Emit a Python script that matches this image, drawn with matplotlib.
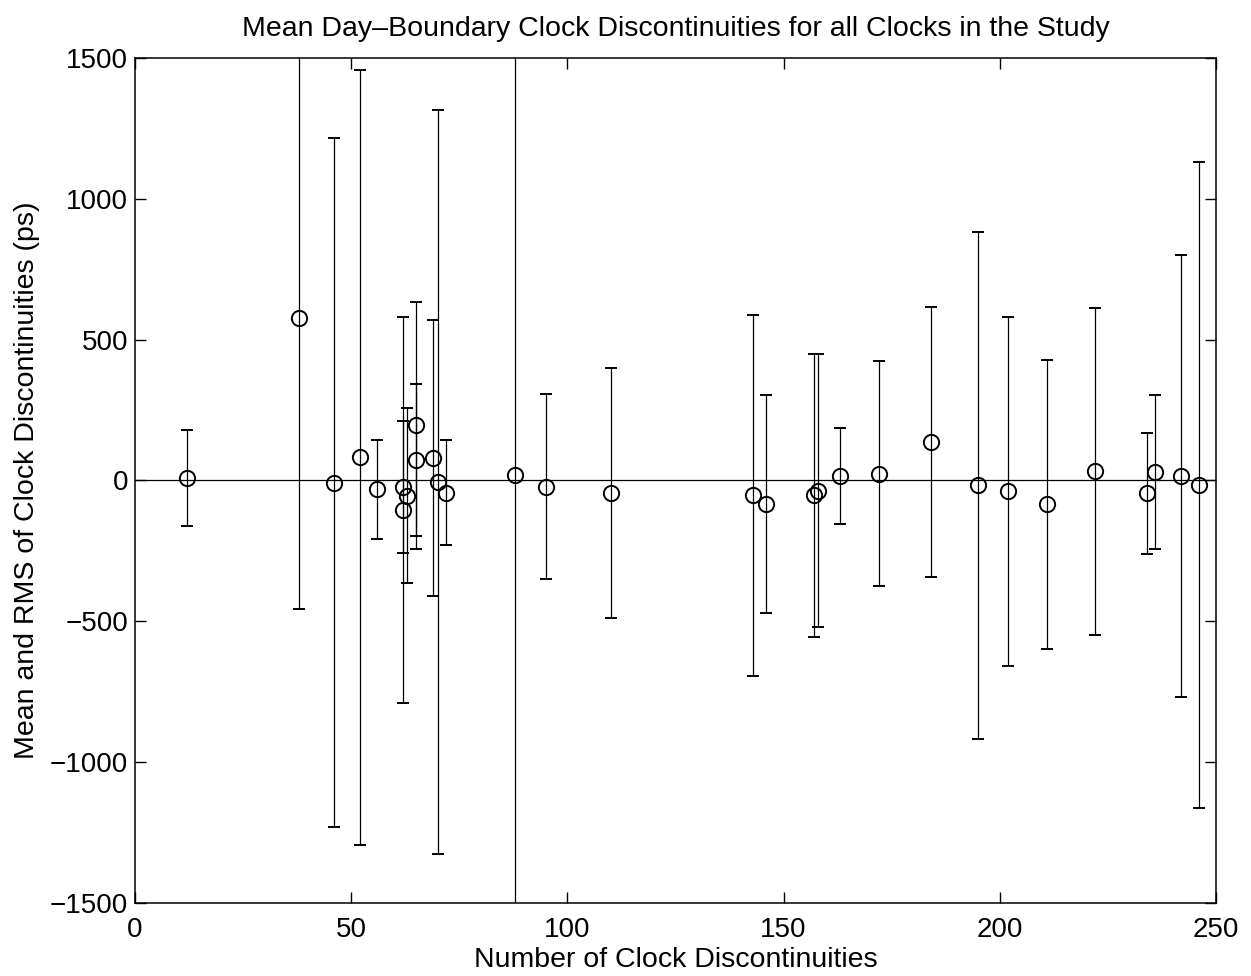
from matplotlib import pyplot as plt

plt.rcParams['font.family'] = ['Liberation Sans', 'DejaVu Sans']

# number of clock discontinuities for each clock
n_disc = [12, 38, 46, 52, 56, 62, 63, 62, 65, 65, 69, 70, 72, 88, 95, 110,
          143, 146, 157, 158, 163, 172, 184, 195, 202, 211, 222, 234, 236,
          242, 246]
# mean discontinuity (ps)
mean_ps = [8, 576, -8, 82, -31, -22, -54, -105, 196, 73, 80, -6, -43, 18,
           -22, -45, -53, -85, -53, -36, 15, 24, 136, -17, -38, -84, 32, -46,
           31, 16, -16]
# rms of discontinuities (ps)
rms_ps = [170, 1031, 1223, 1375, 175, 234, 311, 684, 438, 270, 490, 1320,
          187, 1900, 329, 444, 642, 387, 503, 484, 170, 399, 480, 900, 619,
          513, 581, 216, 274, 785, 1145]

fig = plt.figure(figsize=(12.51, 9.76), dpi=100)
ax = fig.add_axes([0.1079, 0.0748, 0.8641, 0.8658])

# zero line
ax.axhline(0, color='black', linewidth=0.9)

ax.errorbar(n_disc, mean_ps, yerr=rms_ps, fmt='o', color='black',
            markerfacecolor='none', markeredgecolor='black', markersize=11,
            markeredgewidth=1.4, elinewidth=0.9, capsize=4.5, capthick=0.9)

ax.set_xlim(0, 250)
ax.set_ylim(-1500, 1500)
ax.set_xticks([0, 50, 100, 150, 200, 250])
ax.set_yticks([-1500, -1000, -500, 0, 500, 1000, 1500])
ax.tick_params(direction='in', top=True, right=True, length=8, width=1,
               labelsize=20)
ax.tick_params(axis='x', pad=10)
ax.tick_params(axis='y', pad=5)
for s in ax.spines.values():
    s.set_linewidth(1.1)

ax.set_title('Mean Day\u2013Boundary Clock Discontinuities for all Clocks in the Study',
             fontsize=20.5, pad=16)
ax.set_xlabel('Number of Clock Discontinuities', fontsize=20.5, labelpad=3)
ax.set_ylabel('Mean and RMS of Clock Discontinuities (ps)', fontsize=20.5,
              labelpad=7)

plt.savefig('out.png', dpi=100)
